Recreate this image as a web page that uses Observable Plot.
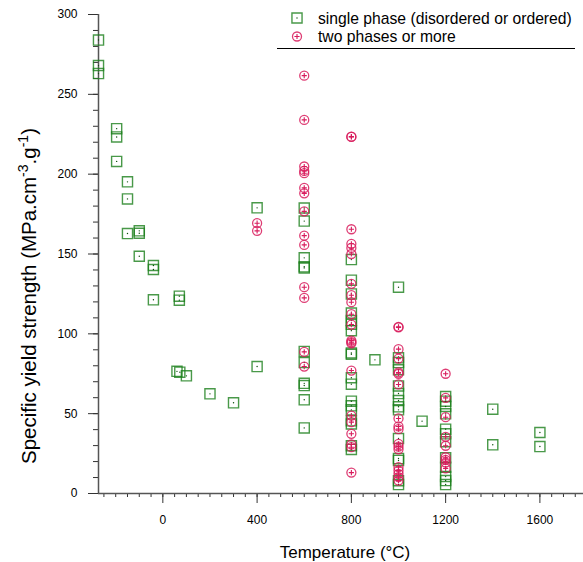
<!DOCTYPE html>
<html><head><meta charset="utf-8">
<script src="https://cdn.jsdelivr.net/npm/d3@7"></script>
<script src="https://cdn.jsdelivr.net/npm/@observablehq/plot@0.6"></script>
<style>
html,body{margin:0;padding:0;background:#fff;}
#chart svg{display:block;}
</style></head><body><div id="chart"></div>
<script>
// ---- data ----
const singleTemps = [-273, -196, -150, -100, -40, 70, 60, 72, 100, 200, 300, 400, 600, 800, 900, 1000, 1100, 1200, 1400, 1600];
const singleValues = [
  [284, 268, 263],
  [228.5, 223.3, 208],
  [195.2, 184.5, 162.8],
  [164.5, 163, 148.6],
  [142.8, 140.3, 121.3],
  [123.6, 121.1],
  [76.5],
  [76],
  [73.7],
  [62.4],
  [56.8],
  [178.9, 79.5],
  [178.8, 170.6, 147.6, 142, 141.3, 89, 82, 69, 67.6, 58.7, 41.1],
  [146.5, 133.6, 125, 113, 108.3, 106, 102, 88, 87.2, 72.5, 68.5, 57.8, 54.9, 52.4, 45.5, 43.6, 29.9, 27.6],
  [83.7],
  [129.2, 85, 82, 77.5, 67.4, 62.6, 58.2, 54.3, 52.4, 34.4, 21.9, 20.7, 8, 5.6],
  [45.3],
  [60.7, 57.8, 54.5, 49.9, 40.3, 37.4, 32.4, 22.4, 16.5, 10.6, 8.1, 5.6],
  [52.8, 30.5],
  [38.2, 29.4]
];
const multiTemps = [400, 600, 800, 1000, 1200];
const multiValues = [
  [169.3, 164.5],
  [261.7, 234, 204.8, 202, 200.6, 191.4, 188, 176.7, 161.5, 155.7, 129.2, 122.5, 88.7, 79.5],
  [223.5, 223.3, 165.5, 156.4, 153.8, 150, 131.3, 124.2, 119.8, 112.3, 105.8, 95.8, 94.8, 94.1, 77, 48.8, 44.7, 37.4, 30.7, 29, 13.1],
  [104.4, 104, 90.4, 84.5, 75.8, 75, 68.3, 47, 42, 40.3, 31.1, 29.4, 27.7, 16.5, 14.4, 12.3, 10.2, 8.1],
  [75, 59.9, 47.8, 35.5, 29.9, 22.7, 21.1, 19.4, 15.7]
];
const majorXTicks = [0, 400, 800, 1200, 1600];
const minorXTicks = d3.range(-250, 1800, 50);
const majorYTicks = [0, 50, 100, 150, 200, 250, 300];
const minorYTicks = d3.range(0, 301, 10);
const legendLabels = ["single phase (disordered or ordered)", "two phases or more"];
const xTitle = "Temperature (°C)";

// ---- build rows ----
const single = singleTemps.flatMap((t, i) => singleValues[i].map(s => ({t, s})));
const multi = multiTemps.flatMap((t, i) => multiValues[i].map(s => ({t, s})));

const GREEN = "#1b7f1b", GREEN_DOT = "#0a4f0a", PINK = "#d81b5c", AXIS = "#333";
const FONT = "'Liberation Sans', Arial, Helvetica, sans-serif";

const plot = Plot.plot({
  width: 583, height: 562,
  marginLeft: 98, marginRight: 0, marginTop: 14, marginBottom: 69,
  style: {fontFamily: FONT, fontSize: "12px", color: "#000", background: "#fff", overflow: "visible"},
  x: {domain: [-273, 1785]},
  y: {domain: [0, 300]},
  marks: [
    Plot.axisX(minorXTicks, {tickSize: 4, tickFormat: () => "", label: null, stroke: AXIS}),
    Plot.axisX(majorXTicks, {tickSize: 10, tickPadding: 12, tickFormat: d => String(d), label: null, stroke: AXIS, fill: "#000", fontSize: 12}),
    Plot.axisY(minorYTicks, {tickSize: 5, tickFormat: () => "", label: null, stroke: AXIS}),
    Plot.axisY(majorYTicks, {tickSize: 10, tickPadding: 11, tickFormat: d => String(d), label: null, stroke: AXIS, fill: "#000", fontSize: 12}),
    Plot.ruleY([0], {stroke: "#555", strokeWidth: 1.5}),
    Plot.ruleX([-273], {stroke: "#555", strokeWidth: 1.5}),
    Plot.dot(single, {x: "t", y: "s", symbol: "square", r: 5.7, stroke: GREEN, strokeWidth: 1.4, strokeOpacity: 0.8}),
    Plot.dot(single, {x: "t", y: "s", r: 0.7, fill: GREEN_DOT}),
    Plot.dot(multi, {x: "t", y: "s", symbol: "circle", r: 4.5, stroke: PINK, strokeWidth: 1.3, strokeOpacity: 0.85}),
    Plot.dot(multi, {x: "t", y: "s", symbol: "plus", r: 1.8, stroke: PINK, strokeWidth: 1.1})
  ]
});
document.getElementById("chart").appendChild(plot);

// ---- titles and legend ----
const svg = d3.select(plot);
svg.append("text")
  .attr("x", 345).attr("y", 557.5)
  .attr("text-anchor", "middle")
  .style("font-family", FONT).style("font-size", "17px").attr("fill", "#000")
  .text(xTitle);

const yt = svg.append("text")
  .attr("transform", "translate(36,296) rotate(-90)")
  .attr("text-anchor", "middle")
  .style("font-family", FONT).style("font-size", "20.5px").attr("fill", "#000");
yt.append("tspan").text("Specific yield strength (MPa.cm");
yt.append("tspan").attr("dy", -8).style("font-size", "14px").text("-3");
yt.append("tspan").attr("dy", 8).text(".g");
yt.append("tspan").attr("dy", -8).style("font-size", "14px").text("-1");
yt.append("tspan").attr("dy", 8).text(")");

const lg = svg.append("g").style("font-family", FONT).style("font-size", "15.7px").attr("text-anchor", "start");
const sqPath = d3.symbol(d3.symbolSquare, 5.7 * 5.7 * Math.PI)();
const ciPath = d3.symbol(d3.symbolCircle, 4.5 * 4.5 * Math.PI)();
const plPath = d3.symbol(d3.symbolPlus, 1.8 * 1.8 * Math.PI)();
lg.append("path").attr("d", sqPath).attr("transform", "translate(297,18)")
  .attr("fill", "none").attr("stroke", GREEN).attr("stroke-width", 1.4).attr("stroke-opacity", 0.8);
lg.append("circle").attr("cx", 297).attr("cy", 18).attr("r", 0.7).attr("fill", GREEN_DOT);
lg.append("path").attr("d", ciPath).attr("transform", "translate(297,36.5)")
  .attr("fill", "none").attr("stroke", PINK).attr("stroke-width", 1.3).attr("stroke-opacity", 0.85);
lg.append("path").attr("d", plPath).attr("transform", "translate(297,36.5)")
  .attr("fill", "none").attr("stroke", PINK).attr("stroke-width", 1.1);
lg.append("text").attr("x", 318).attr("y", 23.5).attr("text-anchor", "start").attr("fill", "#000").text(legendLabels[0]);
lg.append("text").attr("x", 318).attr("y", 42).attr("text-anchor", "start").attr("fill", "#000").text(legendLabels[1]);
lg.append("line").attr("x1", 277).attr("x2", 575).attr("y1", 48.5).attr("y2", 48.5)
  .attr("stroke", "#000").attr("stroke-width", 1);
</script>
</body></html>
